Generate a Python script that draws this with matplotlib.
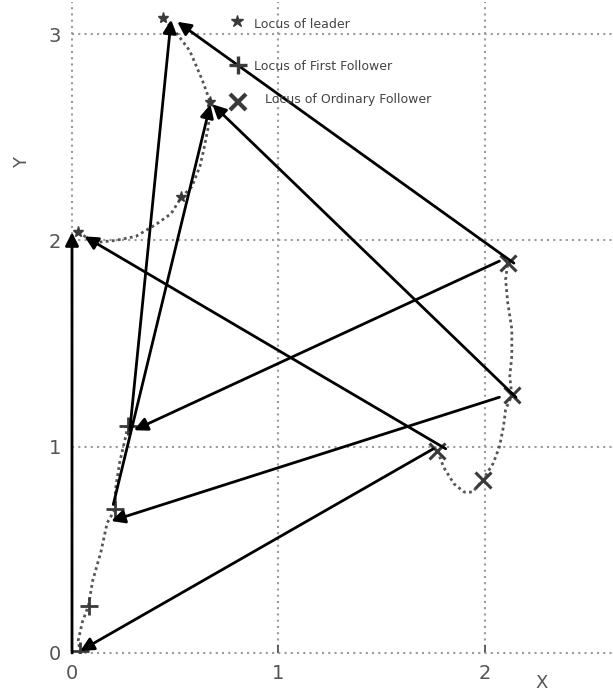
import numpy as np
import matplotlib.pyplot as plt

# loci (data units)
leader_x = [0.03, 0.11, 0.21, 0.31, 0.41, 0.48, 0.53, 0.58, 0.62, 0.64, 0.66, 0.67, 0.63, 0.57, 0.51, 0.44]
leader_y = [2.04, 1.99, 2.00, 2.02, 2.08, 2.13, 2.21, 2.26, 2.36, 2.45, 2.55, 2.67, 2.78, 2.92, 3.00, 3.08]
leader_mx = [0.03, 0.53, 0.67, 0.44]
leader_my = [2.04, 2.21, 2.67, 3.08]

first_x = [0.04, 0.03, 0.05, 0.08, 0.10, 0.14, 0.17, 0.21, 0.21, 0.23, 0.26, 0.27]
first_y = [0.00, 0.06, 0.15, 0.23, 0.35, 0.49, 0.63, 0.70, 0.79, 0.92, 1.05, 1.10]
first_mx = [0.04, 0.08, 0.21, 0.27]
first_my = [0.01, 0.23, 0.70, 1.10]

ord_x = [1.77, 1.80, 1.85, 1.90, 1.94, 1.99, 2.04, 2.07, 2.09, 2.10, 2.13, 2.12, 2.13, 2.13, 2.11, 2.10, 2.11]
ord_y = [0.98, 0.90, 0.82, 0.78, 0.78, 0.84, 0.92, 1.00, 1.10, 1.18, 1.25, 1.34, 1.44, 1.57, 1.70, 1.81, 1.89]
ord_mx = [1.77, 1.99, 2.13, 2.11]
ord_my = [0.98, 0.84, 1.25, 1.89]

# pursuit arrows: tail -> head
arr_x0 = [0.00, 1.81, 1.75, 0.20, 2.15, 2.07, 0.28, 2.14, 2.07]
arr_y0 = [0.00, 0.99, 0.99, 0.72, 1.24, 1.24, 1.08, 1.89, 1.90]
arr_x1 = [0.00, 0.06, 0.04, 0.67, 0.68, 0.19, 0.48, 0.51, 0.30]
arr_y1 = [2.04, 2.02, 0.01, 2.66, 2.66, 0.64, 3.07, 3.06, 1.08]

xticks = [0, 1, 2]
yticks = [0, 1, 2, 3]
legend_labels = ['Locus of leader', 'Locus of First Follower', 'Locus of Ordinary Follower']

W, H = 613, 693
fig = plt.figure(figsize=(W / 100, H / 100), dpi=100)
ax = fig.add_axes([72 / W, (H - 653) / H, (W - 72) / W, (653 - 2) / H])
ax.set_xlim(0, 2.62)
ax.set_ylim(0, 3.156)

for s in ax.spines.values():
    s.set_visible(False)
ax.set_xticks(xticks)
ax.set_yticks(yticks)
ax.grid(True, color='#9a9a9a', linestyle=(0, (1, 2)), linewidth=1.5)
for gl in ax.get_xgridlines() + ax.get_ygridlines():
    gl.set_clip_on(False)
ax.tick_params(axis='x', direction='in', length=6, width=1.3, color='#555555',
               labelsize=14, labelcolor='#555555', pad=8)
ax.tick_params(axis='y', length=0, labelsize=14, labelcolor='#555555', pad=8)

gray = '#3a3a3a'
ax.plot(leader_x, leader_y, color='#555555', linestyle=(0, (1, 1.2)), lw=2.0)
ax.plot(first_x, first_y, color='#555555', linestyle=(0, (1, 1.2)), lw=2.0)
ax.plot(ord_x, ord_y, color='#555555', linestyle=(0, (1, 1.2)), lw=2.0)
ax.plot(leader_mx, leader_my, '*', color=gray, ms=8, ls='none')
ax.plot(first_mx, first_my, '+', color=gray, ms=13, mew=2, ls='none')
ax.plot(ord_mx, ord_my, 'x', color=gray, ms=12, mew=2.2, ls='none')

for x0, y0, x1, y1 in zip(arr_x0, arr_y0, arr_x1, arr_y1):
    ax.annotate('', xy=(x1, y1), xytext=(x0, y0),
                arrowprops=dict(arrowstyle='-|>', color='black', lw=2,
                                mutation_scale=20, shrinkA=0, shrinkB=0),
                annotation_clip=False)

# legend drawn by hand (no box, uneven spacing)
ft = fig.transFigure
fig.lines.append(plt.Line2D([237 / W], [1 - 21 / H], marker='*', ms=9, color=gray, ls='none', transform=ft))
fig.lines.append(plt.Line2D([238 / W], [1 - 65 / H], marker='+', ms=13, mew=2.4, color=gray, ls='none', transform=ft))
fig.lines.append(plt.Line2D([238 / W], [1 - 102 / H], marker='x', ms=11, mew=3, color=gray, ls='none', transform=ft))
fig.text(254 / W, 1 - 24 / H, legend_labels[0], fontsize=9, color='#444444', va='center')
fig.text(254 / W, 1 - 67 / H, legend_labels[1], fontsize=9, color='#444444', va='center')
fig.text(265 / W, 1 - 100 / H, legend_labels[2], fontsize=9, color='#444444', va='center')

fig.text(542 / W, 1 - 683 / H, 'X', fontsize=13, color='#555555', ha='center', va='center')
fig.text(22 / W, 1 - 163 / H, 'Y', fontsize=13, color='#555555', ha='center', va='center', rotation=90)

fig.savefig('out.png', dpi=100)
